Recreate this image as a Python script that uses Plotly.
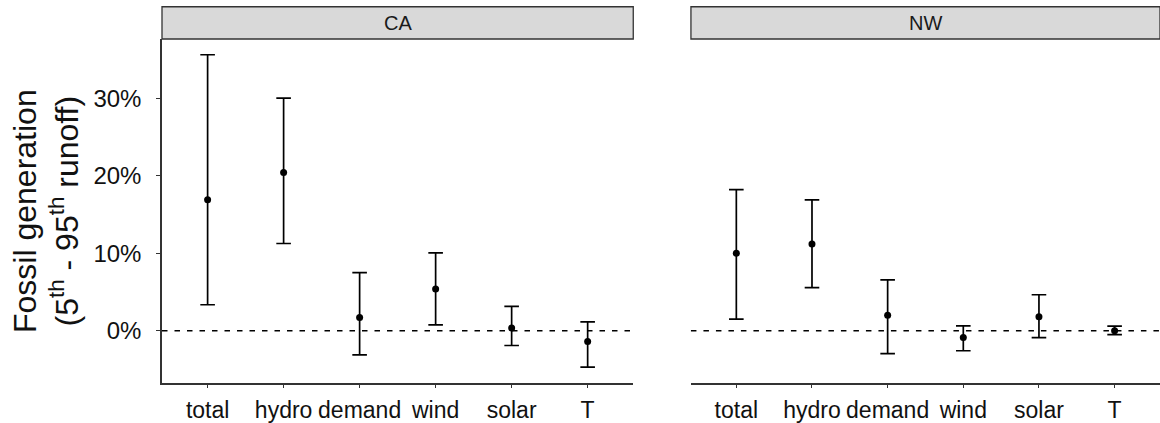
import plotly.graph_objects as go

categories = ["total", "hydro", "demand", "wind", "solar", "T"]
panels = ["CA", "NW"]

ca_mid = [16.9, 20.4, 1.7, 5.4, 0.35, -1.4]
ca_lo = [3.35, 11.25, -3.1, 0.75, -1.9, -4.68]
ca_hi = [35.6, 30.0, 7.5, 10.05, 3.15, 1.15]

nw_mid = [10.0, 11.2, 2.0, -0.86, 1.8, 0.0]
nw_lo = [1.5, 5.56, -2.96, -2.58, -0.9, -0.5]
nw_hi = [18.2, 16.87, 6.55, 0.64, 4.64, 0.6]

y_ticks = [0, 10, 20, 30]
y_ticktext = ["0%", "10%", "20%", "30%"]

FONT = "Liberation Sans, Arial, sans-serif"
ink = "#111111"

fig = go.Figure()
for i, (mid, lo, hi) in enumerate([(ca_mid, ca_lo, ca_hi), (nw_mid, nw_lo, nw_hi)]):
    xa = "x" if i == 0 else "x2"
    ya = "y" if i == 0 else "y2"
    fig.add_trace(go.Scatter(
        x=categories, y=mid, xaxis=xa, yaxis=ya, mode="markers",
        marker=dict(color="black", size=7),
        error_y=dict(type="data", symmetric=False,
                     array=[h - m for h, m in zip(hi, mid)],
                     arrayminus=[m - l for m, l in zip(mid, lo)],
                     color="black", thickness=1.7, width=7.3),
        showlegend=False, hoverinfo="skip"))

ymin, ymax = -6.74, 37.63
xcommon = dict(type="category", categoryorder="array", categoryarray=categories,
               range=[-0.6, 5.6], showline=True, linecolor="#333333", linewidth=1.5,
               ticks="outside", ticklen=3, tickcolor="#333333", tickwidth=1.2,
               showgrid=False, zeroline=False, ticklabelstandoff=3,
               tickfont=dict(family=FONT, size=23, color=ink), fixedrange=True)
fig.update_layout(
    width=1160, height=423,
    margin=dict(l=162, r=0, t=39, b=40),
    plot_bgcolor="white", paper_bgcolor="white",
    xaxis=dict(domain=[0, 0.4722], anchor="y", **xcommon),
    xaxis2=dict(domain=[0.530, 1.0], anchor="y2", **xcommon),
    yaxis=dict(range=[ymin, ymax], tickvals=y_ticks, ticktext=y_ticktext,
               showline=True, linecolor="#333333", linewidth=1.5,
               ticks="outside", ticklen=4, tickcolor="#333333", tickwidth=1.2,
               showgrid=False, zeroline=False, ticklabelstandoff=10,
               tickfont=dict(family=FONT, size=24, color=ink)),
    yaxis2=dict(range=[ymin, ymax], anchor="x2", matches="y", showline=False,
                showticklabels=False, ticks="", showgrid=False, zeroline=False),
)

strip_top = 1 + 32.3 / 344.3
for i, name in enumerate(panels):
    xr = "x domain" if i == 0 else "x2 domain"
    yr = "y" if i == 0 else "y2"
    fig.add_shape(type="rect", xref=xr, yref="paper", x0=0, x1=1, y0=1, y1=strip_top,
                  fillcolor="#d9d9d9", line=dict(color="#333333", width=1.3))
    fig.add_annotation(text=name, xref=xr, yref="paper", x=0.5, y=(1 + strip_top) / 2,
                       showarrow=False, font=dict(family=FONT, size=20, color="#1a1a1a"),
                       xanchor="center", yanchor="middle")
    fig.add_shape(type="line", xref=xr, yref=yr, x0=0, x1=1, y0=0, y1=0, layer="below",
                  line=dict(color="black", width=1.4, dash="5.5px,7px"))

fig.add_annotation(text="Fossil generation<br>(5<sup>th</sup> - 95<sup>th</sup> runoff)",
                   xref="paper", yref="paper", x=0, y=0.5, xshift=-116,
                   xanchor="center", yanchor="middle", textangle=-90, showarrow=False,
                   font=dict(family=FONT, size=32, color=ink))

fig.write_html("out.html", config={"displayModeBar": False},
               post_script="document.body.style.margin='0';document.body.style.overflow='hidden';")
